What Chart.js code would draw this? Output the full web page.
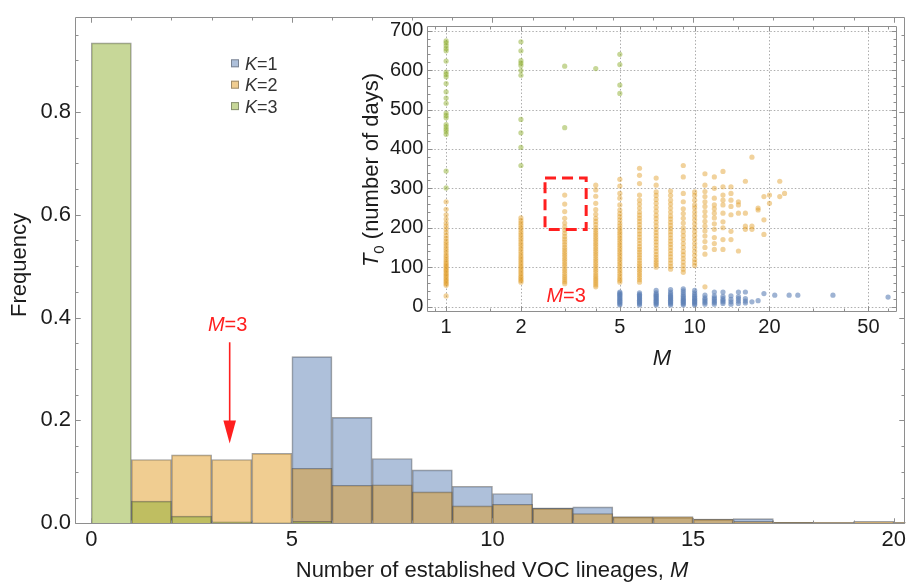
<!DOCTYPE html>
<html><head><meta charset="utf-8">
<script src="https://cdn.jsdelivr.net/npm/chart.js@4.4.1/dist/chart.umd.min.js"></script>
<style>
html,body{margin:0;padding:0;background:#fff;}
#wrap{position:relative;width:909px;height:585px;overflow:hidden;}
#main{position:absolute;left:0;top:0;}
#inset{position:absolute;left:345px;top:10px;}
</style></head><body>
<div id="wrap"><canvas id="main" width="909" height="585"></canvas><canvas id="inset" width="560" height="362"></canvas></div>
<script>
// ---------------- DATA ----------------
// Histogram bins [k, k+1)
const bins = [0,1,2,3,4,5,6,7,8,9,10,11,12,13,14,15,16,17,18,19,20];
const freqK1 = [0,0,0,0,0,0.324,0.206,0.126,0.104,0.072,0.058,0.030,0.032,0.012,0.011,0.008,0.009,0.002,0.001,0.001,0.001];
const freqK2 = [0,0.124,0.133,0.124,0.136,0.107,0.074,0.075,0.061,0.034,0.037,0.029,0.019,0.013,0.013,0.008,0.004,0.002,0.002,0.004,0.002];
const freqK3 = [0.934,0.043,0.014,0.003,0.001,0.004,0,0,0,0,0,0,0,0,0,0,0,0,0,0,0];
const legendLabels = ['1','2','3'];
const mainXTicks = [0,5,10,15,20];
const mainYTicks = [0,0.2,0.4,0.6,0.8];
const mainXMinor = [0,1,2,3,4,5,6,7,8,9,10,11,12,13,14,15,16,17,18,19,20];
const mainYMinor = [0,0.05,0.1,0.15,0.2,0.25,0.3,0.35,0.4,0.45,0.5,0.55,0.6,0.65,0.7,0.75,0.8,0.85,0.9,0.95];

// Inset scatter: [M, list of T0 values]
const insetK1 = [
 [5,[4,7,10,13,16,19,22,25,28,31,34,37]],
 [6,[4,7,10,13,16,19,22,25,28,31,35]],
 [7,[4,7,10,13,16,19,22,25,28,31,35,41]],
 [8,[4,7,10,13,16,19,22,25,28,32,37,43]],
 [9,[4,7,10,13,16,19,22,26,30,35,40,45]],
 [10,[4,7,10,13,16,19,22,26,30,35,41]],
 [11,[6,10,14,18,22,29]],
 [12,[6,10,14,18,22,27,37]],
 [13,[8,12,16,20,26,37]],
 [14,[6,12,18,27]],
 [15,[8,14,20,25,37]],
 [16,[9,14,20,37]],
 [17,[12]],[18,[15]],[19,[33]],[21,[29]],[24,[29]],[26,[29]],[36,[29]],[60,[24]]
];
const insetK2 = [
 [1,[27,54,58,62,66,70,74,78,82,86,90,94,98,102,106,110,115,120,125,130,136,142,148,154,160,166,173,180,188,196,204,212,222,233,247,266]],
 [2,[62,66,70,74,78,83,88,93,98,103,108,113,118,123,128,134,140,146,152,158,164,170,176,182,188,194,200,206,212,218,225]],
 [3,[58,63,68,73,78,84,90,96,102,108,114,120,126,132,138,144,150,157,164,171,178,186,194,202,212,224,241,260,283]],
 [4,[50,55,60,65,70,75,80,86,92,98,104,110,116,122,128,134,140,146,152,158,164,170,176,182,188,194,200,208,216,224,234,246,262,280,296,308]],
 [5,[62,67,72,78,84,90,96,102,108,114,120,126,132,138,144,150,156,162,168,174,180,186,192,198,205,212,220,228,236,245,258,275,287,306,323]],
 [6,[62,68,74,80,86,92,98,104,110,117,124,131,138,145,152,160,168,176,184,192,200,208,216,224,232,240,250,260,270,283,312,333,351]],
 [7,[100,106,112,118,125,132,140,148,156,164,172,180,188,196,205,214,223,232,242,252,262,272,282,291,308,326]],
 [8,[95,102,110,118,126,134,142,150,158,166,174,182,190,198,206,214,222,230,240,250,260,270,282,293]],
 [9,[87,95,104,113,122,131,140,150,160,170,180,190,200,212,224,236,248,266,287,329,358]],
 [10,[104,112,120,130,140,150,160,170,180,190,200,210,220,230,240,250,258,270,282,291]],
 [11,[50,133,150,165,179,192,204,216,229,241,254,266,279,292,308,337]],
 [12,[145,160,175,196,210,225,237,248,258,275,300,329]],
 [13,[145,170,200,215,237,258,270,283,304,343]],
 [14,[170,191,233,254,270,287,304]],
 [15,[141,237,258,266]],
 [16,[196,204,237,318]],
 [17,[196,204,379]],
 [18,[245,250]],
 [19,[183,220,279]],
 [20,[262,283]],
 [22,[279,318]],
 [23,[287]]
];
const insetK3 = [
 [1,[301,344,437,444,450,456,462,479,485,491,516,529,545,566,583,589,595,623,649,655,662,669,674]],
 [2,[358,404,441,475,587,599,612,618,624,649,672]],
 [3,[454,610]],
 [4,[604]],
 [5,[541,562,614,640]]
];
const insetXTicks = [1,2,5,10,20,50];
const insetXMinor = [0.9,1.5,3,4,6,7,8,9,15,30,40,60];
const insetYTicks = [0,100,200,300,400,500,600,700];
const insetYMinor = [20,40,60,80,120,140,160,180,220,240,260,280,320,340,360,380,420,440,460,480,520,540,560,580,620,640,660,680];
// annotation values
const arrowM = 3.45, arrowTop = 0.352, arrowHeadBase = 0.2, arrowTip = 0.155;
const mainLabelPos = [3.40, 0.3745];
const boxM = [2.5, 3.66], boxT = [195.5, 326];
const insetLabelPos = [3.04, 12];

// ---------------- STYLE ----------------
const FONT = "'Liberation Sans', Arial, Helvetica, sans-serif";
const FRAME = '#8e8e8e';
const TXT = '#1c1c1c';
const RED = '#ff1f1f';
const cBlue = 'rgba(94,129,181,0.5)', cOrange = 'rgba(225,156,36,0.5)', cGreen = 'rgba(143,176,50,0.5)';
const edge = 'rgba(70,70,70,0.5)';

function richText(ctx, parts, x, y, rot, size, color, align) {
  ctx.save();
  ctx.translate(x, y); ctx.rotate(rot || 0);
  ctx.fillStyle = color; ctx.textBaseline = 'alphabetic'; ctx.textAlign = 'left';
  const fontOf = p => (p.it ? 'italic ' : '') + (p.sub ? Math.round(size*0.7) : size) + 'px ' + FONT;
  let total = 0; const ws = [];
  parts.forEach(p => { ctx.font = fontOf(p); const w = ctx.measureText(p.t).width; ws.push(w); total += w; });
  let cx = align === 'left' ? 0 : -total/2;
  parts.forEach((p, i) => { ctx.font = fontOf(p); ctx.fillText(p.t, cx, p.sub ? size*0.28 : 0); cx += ws[i]; });
  ctx.restore();
}

function frameAndTicks(chart, xMaj, xMin, yMaj, yMin, lenMaj, lenMin) {
  const {ctx, chartArea: a, scales: {x, y}} = chart;
  const L = Math.round(a.left) + 0.5, R = Math.round(a.right) - 0.5, T = Math.round(a.top) + 0.5, B = Math.round(a.bottom) + 0.5;
  ctx.save();
  ctx.strokeStyle = FRAME; ctx.lineWidth = 1;
  ctx.beginPath();
  ctx.rect(L, T, R - L, B - T);
  const tickX = (v, len) => { const px = Math.round(x.getPixelForValue(v)) + 0.5; if (px < L || px > R) return; ctx.moveTo(px, B); ctx.lineTo(px, B - len); ctx.moveTo(px, T); ctx.lineTo(px, T + len); };
  const tickY = (v, len) => { const py = Math.round(y.getPixelForValue(v)) + 0.5; if (py < T || py > B) return; ctx.moveTo(L, py); ctx.lineTo(L + len, py); ctx.moveTo(R, py); ctx.lineTo(R - len, py); };
  xMin.forEach(v => tickX(v, xMaj.includes(v) ? lenMaj : lenMin));
  xMaj.forEach(v => tickX(v, lenMaj));
  yMin.forEach(v => tickY(v, yMaj.some(m => Math.abs(m - v) < 1e-9) ? lenMaj : lenMin));
  yMaj.forEach(v => tickY(v, lenMaj));
  ctx.stroke();
  ctx.restore();
}

// ---------------- MAIN HISTOGRAM ----------------
const toBars = arr => arr.map((v, i) => v > 0 ? {x: bins[i] + 0.5, y: v} : null).filter(Boolean);

const mainDecor = {
  id: 'mainDecor',
  afterDraw(chart) {
    const {ctx, scales: {x, y}} = chart;
    frameAndTicks(chart, mainXTicks, mainXMinor, mainYTicks, mainYMinor, 5, 3);
    // legend
    const cols = [cBlue, cOrange, cGreen];
    legendLabels.forEach((lab, i) => {
      const cy = 63.3 + 21.4 * i;
      ctx.save();
      ctx.fillStyle = cols[i]; ctx.fillRect(231, cy - 4, 8, 8);
      ctx.strokeStyle = 'rgba(60,60,60,0.45)'; ctx.lineWidth = 1; ctx.strokeRect(231.5, cy - 3.5, 7, 7);
      ctx.restore();
      richText(ctx, [{t: 'K', it: true}, {t: '=' + lab}], 245, cy + 6.5, 0, 18, '#333', 'left');
    });
    // arrow
    const ax = x.getPixelForValue(arrowM);
    ctx.save();
    ctx.strokeStyle = RED; ctx.fillStyle = RED; ctx.lineWidth = 1.6;
    ctx.beginPath(); ctx.moveTo(ax, y.getPixelForValue(arrowTop)); ctx.lineTo(ax, y.getPixelForValue(arrowHeadBase) + 2); ctx.stroke();
    const hb = y.getPixelForValue(arrowHeadBase), tip = y.getPixelForValue(arrowTip);
    ctx.beginPath(); ctx.moveTo(ax - 6.3, hb); ctx.lineTo(ax + 6.3, hb); ctx.lineTo(ax, tip); ctx.closePath(); ctx.fill();
    ctx.restore();
    richText(ctx, [{t: 'M', it: true}, {t: '=3'}], x.getPixelForValue(mainLabelPos[0]), y.getPixelForValue(mainLabelPos[1]), 0, 20, RED);
    // axis titles
    richText(ctx, [{t: 'Frequency'}], 25.5, 265, -Math.PI / 2, 22, TXT);
    richText(ctx, [{t: 'Number of established VOC lineages, '}, {t: 'M', it: true}], 492, 576.5, 0, 22, TXT);
  }
};

new Chart(document.getElementById('main'), {
  type: 'bar',
  data: {
    datasets: [
      {label: 'K=1', data: toBars(freqK1), backgroundColor: cBlue, borderColor: edge, borderWidth: 1, order: 3},
      {label: 'K=2', data: toBars(freqK2), backgroundColor: cOrange, borderColor: edge, borderWidth: 1, order: 2},
      {label: 'K=3', data: toBars(freqK3), backgroundColor: cGreen, borderColor: edge, borderWidth: 1, order: 1}
    ]
  },
  options: {
    responsive: false, animation: false, devicePixelRatio: 1,
    layout: {padding: {top: 6.7, right: 2, left: 0, bottom: 0}},
    datasets: {bar: {grouped: false, categoryPercentage: 1, barPercentage: 1, borderSkipped: 'start'}},
    plugins: {legend: {display: false}, tooltip: {enabled: false}},
    scales: {
      x: {type: 'linear', min: -0.405, max: 20.29, offset: false,
        afterBuildTicks: s => { s.ticks = mainXTicks.map(v => ({value: v})); },
        afterFit: s => { s.height = 61.7; },
        grid: {display: false, drawTicks: false}, border: {display: false},
        ticks: {font: {family: FONT, size: 22}, color: TXT, padding: 3, maxRotation: 0, autoSkip: false}},
      y: {type: 'linear', min: 0, max: 0.984,
        afterBuildTicks: s => { s.ticks = mainYTicks.map(v => ({value: v})); },
        afterFit: s => { s.width = 75; },
        grid: {display: false, drawTicks: false}, border: {display: false},
        ticks: {font: {family: FONT, size: 22}, color: TXT, padding: 4, callback: v => Number(v).toFixed(1)}}
    }
  },
  plugins: [mainDecor]
});

// ---------------- INSET SCATTER ----------------
const toPts = cols => cols.flatMap(([m, ts]) => ts.map(t => ({x: m, y: t})));

const insetDecor = {
  id: 'insetDecor',
  beforeDatasetsDraw(chart) {
    const {ctx, chartArea: a, scales: {x, y}} = chart;
    ctx.save();
    ctx.strokeStyle = 'rgba(140,140,140,0.7)'; ctx.lineWidth = 1; ctx.setLineDash([1.5, 2]);
    ctx.beginPath();
    insetXTicks.forEach(v => { const px = Math.round(x.getPixelForValue(v)) + 0.5; ctx.moveTo(px, a.top); ctx.lineTo(px, a.bottom); });
    insetYTicks.forEach(v => { const py = Math.round(y.getPixelForValue(v)) + 0.5; ctx.moveTo(a.left, py); ctx.lineTo(a.right, py); });
    ctx.stroke();
    ctx.restore();
  },
  afterDraw(chart) {
    const {ctx, scales: {x, y}} = chart;
    frameAndTicks(chart, insetXTicks, insetXMinor, insetYTicks, insetYMinor, 5, 3);
    // dashed box
    ctx.save();
    ctx.strokeStyle = RED; ctx.lineWidth = 3; ctx.setLineDash([11, 6]);
    const x0 = x.getPixelForValue(boxM[0]), x1 = x.getPixelForValue(boxM[1]);
    const y0 = y.getPixelForValue(boxT[1]), y1 = y.getPixelForValue(boxT[0]);
    ctx.strokeRect(x0, y0, x1 - x0, y1 - y0);
    ctx.restore();
    richText(ctx, [{t: 'M', it: true}, {t: '=3'}], x.getPixelForValue(insetLabelPos[0]), y.getPixelForValue(insetLabelPos[1]), 0, 20, RED);
    // titles
    richText(ctx, [{t: 'T', it: true}, {t: '0', sub: true}, {t: ' (number of days)'}], 33, 160, -Math.PI / 2, 22, TXT);
    richText(ctx, [{t: 'M', it: true}], 317, 355, 0, 22, TXT);
  }
};

new Chart(document.getElementById('inset'), {
  type: 'scatter',
  data: {
    datasets: [
      {data: toPts(insetK1), backgroundColor: 'rgba(94,129,181,0.6)', pointRadius: 2.6, pointBorderWidth: 0},
      {data: toPts(insetK2), backgroundColor: 'rgba(225,156,36,0.45)', pointRadius: 2.6, pointBorderWidth: 0},
      {data: toPts(insetK3), backgroundColor: 'rgba(143,176,50,0.5)', pointRadius: 2.6, pointBorderWidth: 0}
    ]
  },
  options: {
    responsive: false, animation: false, devicePixelRatio: 1,
    layout: {padding: {top: 11.7, right: 8.3, left: 0, bottom: 0}},
    plugins: {legend: {display: false}, tooltip: {enabled: false}},
    scales: {
      x: {type: 'logarithmic', min: 0.84, max: 65,
        afterBuildTicks: s => { s.ticks = insetXTicks.map(v => ({value: v})); },
        afterFit: s => { s.height = 61.3; },
        grid: {display: false, drawTicks: false}, border: {display: false},
        ticks: {font: {family: FONT, size: 20}, color: TXT, padding: 5, maxRotation: 0, autoSkip: false, callback: v => String(v)}},
      y: {type: 'linear', min: -10.5, max: 712,
        afterBuildTicks: s => { s.ticks = insetYTicks.map(v => ({value: v})); },
        afterFit: s => { s.width = 82.3; },
        grid: {display: false, drawTicks: false}, border: {display: false},
        ticks: {font: {family: FONT, size: 20}, color: TXT, padding: 4, callback: v => String(v)}}
    }
  },
  plugins: [insetDecor]
});
</script>
</body></html>
